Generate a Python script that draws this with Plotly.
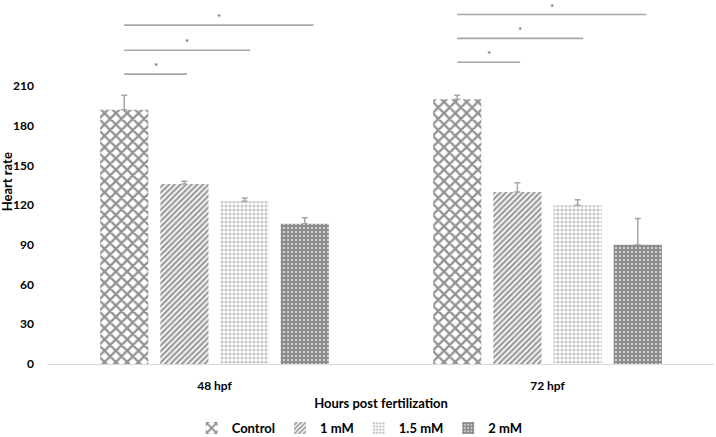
import plotly.graph_objects as go

groups = ["48 hpf", "72 hpf"]
series = ["Control", "1 mM", "1.5 mM", "2 mM"]
values = {
    "Control": [192, 200],
    "1 mM": [136, 130],
    "1.5 mM": [123, 120],
    "2 mM": [106, 90],
}
errors = {
    "Control": [11, 3],
    "1 mM": [2, 7],
    "1.5 mM": [2.5, 4],
    "2 mM": [4.5, 20],
}
y_ticks = [0, 30, 60, 90, 120, 150, 180, 210]
# significance comparisons: Control vs each treatment, bracket heights per group
sig_pairs = [("Control", "1 mM"), ("Control", "1.5 mM"), ("Control", "2 mM")]
sig_heights = [[219, 237, 256], [228, 246, 264]]

styles = {
    "Control": dict(shape="x", fgcolor="#262626", size=8, solidity=0.5),
    "1 mM": dict(shape="/", fgcolor="#333333", size=4, solidity=0.55),
    "1.5 mM": dict(shape=".", fgcolor="#8a8a8a", size=4, solidity=0.5),
    "2 mM": dict(shape=".", fgcolor="#151515", size=4, solidity=0.8),
}

FONT = "Lato, Open Sans, sans-serif"
bargap = 0.277
x_pos = list(range(len(groups)))

fig = go.Figure()
for s in series:
    fig.add_trace(go.Bar(
        name=s, x=x_pos, y=values[s],
        marker=dict(color="white", line=dict(width=0),
                    pattern=dict(bgcolor="white", **styles[s])),
        error_y=dict(type="data", symmetric=False, array=errors[s],
                     arrayminus=[0] * len(groups), color="#a6a6a6",
                     thickness=1.5, width=3),
    ))

slot = (1 - bargap) / len(series)
def offset(s):
    i = series.index(s)
    return -(1 - bargap) / 2 + slot * (i + 0.5)

for g, xg in enumerate(x_pos):
    for k, (a, b) in enumerate(sig_pairs):
        h = sig_heights[g][k]
        x0 = xg + offset(a)
        x1 = xg + offset(b) + 0.008 + 0.009 * k
        fig.add_shape(type="line", x0=x0, x1=x1, y0=h, y1=h,
                      line=dict(color="#a6a6a6", width=1.6))
        fig.add_annotation(x=(x0 + x1) / 2, y=h, text="*", showarrow=False,
                           yshift=8, font=dict(size=10, color="#555555", family=FONT))

# y axis title placed beside tick labels
fig.add_annotation(text="Heart rate", xref="paper", yref="paper", x=-0.061, y=0.5,
                   xanchor="center", yanchor="middle", textangle=-90, showarrow=False,
                   font=dict(size=13, family=FONT, weight="bold", color="#000000"))

fig.update_layout(
    width=716, height=437,
    margin=dict(l=48, r=2, t=0, b=73, autoexpand=False),
    paper_bgcolor="white", plot_bgcolor="white",
    barmode="group", bargap=bargap, bargroupgap=0.2,
    font=dict(family=FONT, color="#000000"),
    showlegend=True,
    legend=dict(orientation="h", x=0.468, xanchor="center", y=-0.176, yanchor="middle",
                font=dict(size=13, family=FONT, weight="bold"),
                itemwidth=30, tracegroupgap=0),
    xaxis=dict(range=[-0.5, 1.5], tickvals=x_pos, ticktext=groups, automargin=False,
               showline=True, linecolor="#d9d9d9", linewidth=1.2,
               showgrid=False, zeroline=False, ticks="", ticklabelstandoff=10,
               tickfont=dict(size=12, family=FONT, weight="bold"),
               title=dict(text="Hours post fertilization", standoff=7,
                          font=dict(size=13, family=FONT, weight="bold"))),
    yaxis=dict(range=[0, 275], tickvals=y_ticks, showgrid=False, zeroline=False,
               automargin=False, showline=False, ticks="", ticklabelstandoff=13,
               tickfont=dict(size=12, family=FONT, weight="bold")),
)

fig.write_html("out.html", config={"displayModeBar": False},
               post_script="document.body.style.margin='0';")
